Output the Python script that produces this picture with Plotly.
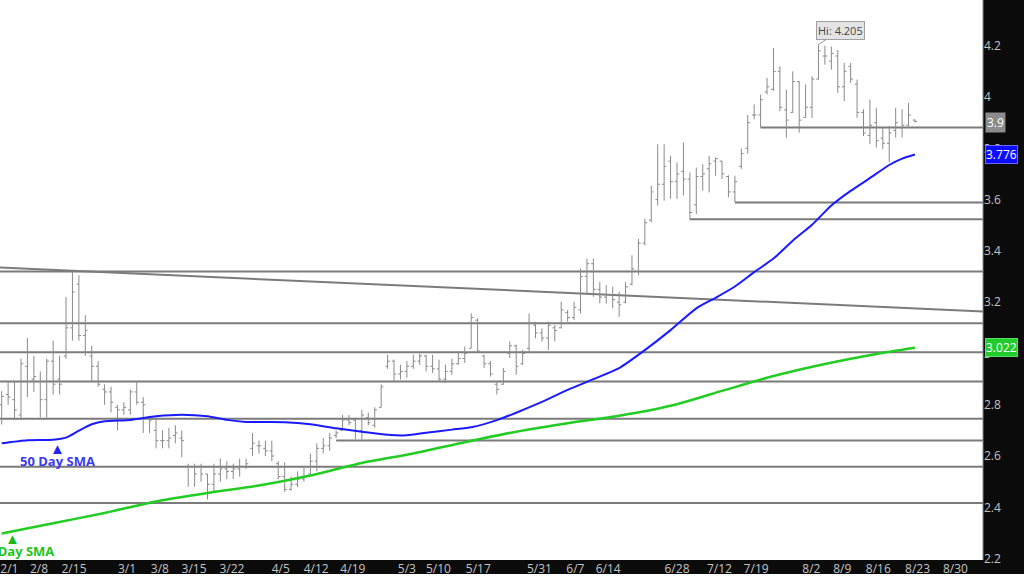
import plotly.graph_objects as go

# ---------------- data ----------------
bar_open = [2.80, 2.84, 2.82, 2.76, 2.95, 2.90, 2.89, 2.82, 2.97, 2.90,
            2.99, 3.10, 3.27, 3.07, 2.99, 2.95, 2.86, 2.85, 2.79, 2.78,
            2.78, 2.85, 2.81, 2.75, 2.70, 2.66, 2.66, 2.68, 2.67, 2.56,
            2.56, 2.56, 2.53, 2.49, 2.53, 2.55, 2.54, 2.55, 2.56, 2.63,
            2.64, 2.63, 2.62, 2.57, 2.52, 2.47, 2.49, 2.51, 2.53, 2.58,
            2.63, 2.64, 2.68, 2.70, 2.74, 2.74, 2.70, 2.75, 2.72, 2.79,
            2.95, 2.97, 2.92, 2.93, 2.95, 2.97, 2.99, 2.95, 2.94, 2.90,
            2.93, 2.96, 2.98, 3.02, 3.13, 2.99, 2.96, 2.88, 2.88, 3.00,
            3.03, 2.96, 3.02, 3.11, 3.08, 3.06, 3.10, 3.10, 3.16, 3.14,
            3.17, 3.30, 3.35, 3.25, 3.22, 3.23, 3.20, 3.20, 3.27, 3.32,
            3.43, 3.52, 3.60, 3.66, 3.75, 3.67, 3.71, 3.68, 3.58, 3.69,
            3.72, 3.75, 3.75, 3.69, 3.63, 3.73, 3.80, 3.93, 3.93, 4.02,
            4.03, 4.10, 3.95, 3.94, 4.06, 3.92, 3.96, 4.07, 4.16, 4.14,
            4.16, 4.04, 4.12, 4.05, 3.94, 3.85, 3.90, 3.84, 3.82, 3.87,
            3.88, 3.89, 3.91]
bar_high = [2.853, 2.89, 2.89, 2.98, 3.06, 2.99, 2.93, 2.98, 3.05, 2.99,
            3.22, 3.32, 3.305, 3.15, 3.03, 2.97, 2.88, 2.87, 2.80, 2.81,
            2.86, 2.89, 2.83, 2.75, 2.75, 2.70, 2.71, 2.72, 2.70, 2.57,
            2.57, 2.57, 2.53, 2.57, 2.59, 2.58, 2.57, 2.59, 2.59, 2.69,
            2.66, 2.66, 2.66, 2.58, 2.575, 2.52, 2.54, 2.555, 2.61, 2.65,
            2.67, 2.69, 2.70, 2.76, 2.76, 2.75, 2.78, 2.77, 2.79, 2.88,
            2.995, 2.976, 2.956, 2.97, 2.995, 3.00, 2.995, 2.995, 2.976, 2.956,
            2.98, 3.008, 3.027, 3.157, 3.137, 2.995, 2.97, 2.891, 2.943, 3.047,
            3.034, 3.014, 3.156, 3.124, 3.098, 3.124, 3.111, 3.202, 3.169, 3.202,
            3.331, 3.370, 3.370, 3.279, 3.266, 3.260, 3.240, 3.279, 3.383, 3.447,
            3.525, 3.654, 3.816, 3.816, 3.771, 3.745, 3.822, 3.706, 3.725, 3.738,
            3.771, 3.764, 3.751, 3.695, 3.693, 3.80, 3.93, 3.971, 4.010, 4.074,
            4.191, 4.120, 4.029, 4.100, 4.062, 4.049, 4.081, 4.205, 4.200, 4.197,
            4.184, 4.133, 4.133, 4.068, 3.952, 3.990, 3.958, 3.881, 3.887, 3.958,
            3.952, 3.977, 3.913]
bar_low = [2.723, 2.80, 2.74, 2.74, 2.83, 2.85, 2.75, 2.75, 2.84, 2.84,
           2.98, 3.05, 3.05, 2.99, 2.89, 2.87, 2.80, 2.77, 2.70, 2.76,
           2.76, 2.80, 2.69, 2.69, 2.63, 2.63, 2.63, 2.65, 2.595, 2.48,
           2.48, 2.50, 2.43, 2.46, 2.50, 2.51, 2.51, 2.52, 2.55, 2.60,
           2.61, 2.60, 2.58, 2.51, 2.46, 2.465, 2.48, 2.50, 2.53, 2.54,
           2.61, 2.62, 2.67, 2.70, 2.72, 2.665, 2.665, 2.72, 2.71, 2.79,
           2.94, 2.891, 2.898, 2.905, 2.94, 2.956, 2.93, 2.924, 2.891, 2.885,
           2.917, 2.956, 2.963, 3.021, 3.008, 2.943, 2.91, 2.840, 2.878, 2.982,
           2.917, 2.956, 3.005, 3.059, 3.047, 3.014, 3.047, 3.098, 3.124, 3.130,
           3.156, 3.228, 3.221, 3.195, 3.195, 3.176, 3.143, 3.195, 3.266, 3.305,
           3.422, 3.512, 3.577, 3.596, 3.603, 3.603, 3.616, 3.523, 3.544, 3.635,
           3.628, 3.693, 3.680, 3.609, 3.589, 3.72, 3.78, 3.913, 3.881, 4.010,
           4.023, 3.945, 3.842, 3.939, 3.861, 3.919, 3.919, 4.068, 4.126, 4.107,
           4.016, 3.984, 4.055, 3.919, 3.848, 3.816, 3.803, 3.797, 3.745, 3.842,
           3.842, 3.887, 3.900]
bar_close = [2.833, 2.83, 2.78, 2.96, 2.89, 2.91, 2.82, 2.97, 2.88, 2.88,
             3.10, 3.24, 3.07, 3.09, 2.95, 2.88, 2.85, 2.81, 2.78, 2.79,
             2.85, 2.81, 2.80, 2.74, 2.66, 2.66, 2.67, 2.69, 2.66, 2.56,
             2.53, 2.53, 2.49, 2.53, 2.55, 2.54, 2.55, 2.56, 2.57, 2.65,
             2.64, 2.62, 2.60, 2.52, 2.47, 2.49, 2.51, 2.52, 2.58, 2.63,
             2.64, 2.67, 2.69, 2.74, 2.73, 2.70, 2.76, 2.73, 2.78, 2.87,
             2.97, 2.92, 2.93, 2.95, 2.97, 2.99, 2.95, 2.94, 2.90, 2.93,
             2.96, 2.98, 3.00, 3.14, 3.01, 2.96, 2.92, 2.86, 2.93, 3.03,
             2.95, 3.00, 3.12, 3.08, 3.06, 3.11, 3.09, 3.17, 3.14, 3.18,
             3.30, 3.35, 3.25, 3.22, 3.23, 3.21, 3.19, 3.26, 3.33, 3.43,
             3.51, 3.63, 3.66, 3.73, 3.67, 3.70, 3.68, 3.55, 3.69, 3.70,
             3.74, 3.76, 3.70, 3.63, 3.67, 3.78, 3.90, 3.93, 3.99, 4.04,
             4.10, 3.96, 3.91, 4.06, 3.91, 3.96, 4.07, 4.18, 4.16, 4.17,
             4.04, 4.10, 4.07, 3.94, 3.86, 3.89, 3.83, 3.82, 3.86, 3.90,
             3.89, 3.93, 3.905]
bar_index = list(range(len(bar_close)))

sma50_index = [0, 4, 8, 10, 12, 14, 16, 20, 24, 28, 32, 35, 38, 44, 48, 52, 56,
               60, 63, 66, 70, 73, 77, 80, 84, 88, 92, 96, 100, 104, 108, 111,
               114, 117, 120, 123, 126, 129, 132, 135, 138, 140, 142]
sma50_value = [2.650, 2.662, 2.664, 2.672, 2.699, 2.724, 2.736, 2.741, 2.755,
               2.761, 2.755, 2.741, 2.733, 2.732, 2.724, 2.708, 2.695, 2.683,
               2.681, 2.691, 2.703, 2.712, 2.740, 2.769, 2.811, 2.858, 2.900,
               2.943, 3.013, 3.091, 3.176, 3.217, 3.261, 3.317, 3.370, 3.440,
               3.502, 3.577, 3.634, 3.684, 3.735, 3.760, 3.776]

sma200_index = [0, 8, 16, 24, 32, 40, 48, 56, 64, 72, 80, 88, 96, 104, 112,
                120, 128, 136, 142]
sma200_value = [2.298, 2.338, 2.378, 2.423, 2.456, 2.485, 2.524, 2.573, 2.610,
                2.654, 2.695, 2.728, 2.757, 2.796, 2.854, 2.912, 2.959, 2.998,
                3.022]

full_levels = [3.320, 3.118, 3.005, 2.891, 2.745, 2.558, 2.417]
partial_level_values = [3.881, 3.589, 3.523, 2.661]
partial_level_starts = [118, 114, 107, 52]
trend_start_value = 3.335
trend_end_value = 3.164

x_tick_labels = ["2/1", "2/8", "2/15", "3/1", "3/8", "3/15", "3/22", "4/5",
                 "4/12", "4/19", "5/3", "5/10", "5/17", "5/31", "6/7", "6/14",
                 "6/28", "7/12", "7/19", "8/2", "8/9", "8/16", "8/23", "8/30"]
y_tick_values = [2.2, 2.4, 2.6, 2.8, 3.0, 3.2, 3.4, 3.6, 3.8, 4.0, 4.2]
y_tick_labels = ["2.2", "2.4", "2.6", "2.8", "3", "3.2", "3.4", "3.6", "3.8",
                 "4", "4.2"]

last_price = 3.9
hi_value = 4.205
hi_index = 127

# ---------------- layout helpers ----------------
W, H = 1024, 577
M_R, M_B = 41, 14
x_tick_pos = [1.2, 5.8, 11.24, 19.49, 24.6, 29.9, 35.8, 43.4, 48.9, 54.6,
              63.0, 67.9, 74.1, 83.6, 89.2, 94.3, 105.0, 111.6, 117.3, 125.9,
              130.7, 136.3, 142.4, 148.3]
X_RANGE = [-0.264, 152.58]
Y_RANGE = [2.1946, 4.3784]
LINE_GRAY = "#7b7b7b"
LABEL_GRAY = "#c4c4c4"
STRIP = "#0b0b0b"

fig = go.Figure()

fig.add_trace(go.Ohlc(
    x=bar_index, open=bar_open, high=bar_high, low=bar_low, close=bar_close,
    increasing=dict(line=dict(color="#8a8a8a", width=1)),
    decreasing=dict(line=dict(color="#8a8a8a", width=1)),
    tickwidth=0.35, hoverinfo="skip", showlegend=False))

fig.add_trace(go.Scatter(
    x=sma200_index, y=sma200_value, mode="lines",
    line=dict(color="#22cc22", width=2.5, shape="spline", smoothing=0.6),
    hoverinfo="skip", showlegend=False))
fig.add_trace(go.Scatter(
    x=sma50_index, y=sma50_value, mode="lines",
    line=dict(color="#1a1aff", width=2, shape="spline", smoothing=0.6),
    hoverinfo="skip", showlegend=False))

pw = W - M_R
ph = H - M_B
shapes = [
    # black strips behind the axis labels
    dict(type="rect", xref="paper", yref="paper", x0=1, x1=W / pw, y0=-M_B / ph, y1=1,
         fillcolor=STRIP, line=dict(width=0), layer="below"),
    dict(type="rect", xref="paper", yref="paper", x0=0, x1=W / pw, y0=-M_B / ph, y1=0,
         fillcolor=STRIP, line=dict(width=0), layer="below"),
]
for v in full_levels:
    shapes.append(dict(type="line", xref="paper", x0=0, x1=1, yref="y", y0=v, y1=v,
                       line=dict(color=LINE_GRAY, width=2), layer="below"))
for v, s in zip(partial_level_values, partial_level_starts):
    shapes.append(dict(type="line", xref="x", x0=s, x1=X_RANGE[1], yref="y", y0=v, y1=v,
                       line=dict(color=LINE_GRAY, width=2), layer="below"))
shapes.append(dict(type="line", xref="paper", x0=0, x1=1, yref="y",
                   y0=trend_start_value, y1=trend_end_value,
                   line=dict(color=LINE_GRAY, width=2), layer="below"))
# right border of the plotting area
shapes.append(dict(type="line", xref="paper", x0=1, x1=1, yref="paper", y0=0, y1=1,
                   line=dict(color="#8a8a8a", width=1)))

annotations = [
    dict(xref="paper", x=1, xanchor="left", xshift=2, yref="y", y=last_price,
         text=str(last_price), showarrow=False, bgcolor="#8c8c8c",
         font=dict(color="white", size=12), borderpad=1),
    dict(xref="paper", x=1, xanchor="left", xshift=2, yref="y", y=sma50_value[-1],
         text=f"{sma50_value[-1]:.3f}", showarrow=False, bgcolor="#0b0bff",
         bordercolor="#6a6aff", borderwidth=1,
         font=dict(color="white", size=12), borderpad=0),
    dict(xref="paper", x=1, xanchor="left", xshift=2, yref="y", y=sma200_value[-1],
         text=f"{sma200_value[-1]:.3f}", showarrow=False, bgcolor="#1fcc2c",
         bordercolor="#5ee066", borderwidth=1,
         font=dict(color="white", size=12), borderpad=0),
    dict(x=hi_index, y=hi_value, xref="x", yref="y", text=f"Hi: {hi_value:.3f}",
         showarrow=True, arrowhead=0, arrowwidth=1, arrowcolor="#9a9a9a",
         ax=22, ay=-14, bgcolor="#e4e4e4", bordercolor="#a0a0a0", borderwidth=1,
         borderpad=1, font=dict(color="#444444", size=11)),
    # 50 day SMA marker and label
    dict(x=8.6, y=2.664, xref="x", yref="y", text="▲", showarrow=False,
         yshift=-8, font=dict(color="#2222ee", size=15)),
    dict(x=8.6, y=2.664, xref="x", yref="y", text="<b>50 Day SMA</b>",
         showarrow=False, yshift=-21, font=dict(color="#3a3af0", size=13)),
    # 200 day SMA marker and label
    dict(x=1.75, y=2.306, xref="x", yref="y", text="▲", showarrow=False,
         yshift=-7, font=dict(color="#16b916", size=15)),
    dict(x=1.75, y=2.306, xref="x", yref="y", text="<b>200 Day SMA</b>",
         showarrow=False, yshift=-20, font=dict(color="#1dc41d", size=13)),
]

fig.update_layout(
    width=W, height=H, autosize=False,
    margin=dict(l=0, r=M_R, t=0, b=M_B, pad=0),
    paper_bgcolor="white", plot_bgcolor="white",
    font=dict(family="Open Sans, Noto Sans, sans-serif"),
    shapes=shapes, annotations=annotations, showlegend=False,
    xaxis=dict(range=X_RANGE, showgrid=False, zeroline=False, showline=False,
               tickvals=x_tick_pos, ticktext=x_tick_labels, ticks="",
               tickfont=dict(color=LABEL_GRAY, size=12),
               rangeslider=dict(visible=False), fixedrange=True),
    yaxis=dict(range=Y_RANGE, side="right", showgrid=False, zeroline=False,
               showline=False,
               tickvals=y_tick_values, ticktext=y_tick_labels, ticks="",
               tickfont=dict(color=LABEL_GRAY, size=12), fixedrange=True),
)

fig.write_html("out.html", config={"displayModeBar": False},
               post_script="document.body.style.margin='0';document.body.style.overflow='hidden';")
